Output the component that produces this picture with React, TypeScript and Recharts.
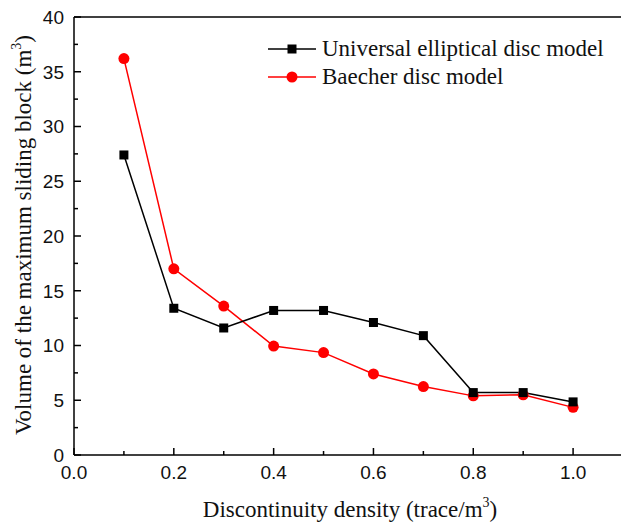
import React from 'react'
import { LineChart, Line, XAxis, YAxis, Legend, ReferenceLine } from 'recharts'

const densities = [0.1, 0.2, 0.3, 0.4, 0.5, 0.6, 0.7, 0.8, 0.9, 1.0]
const ellipticalVolumes = [27.4, 13.4, 11.6, 13.2, 13.2, 12.1, 10.9, 5.7, 5.7, 4.85]
const baecherVolumes = [36.2, 17.0, 13.6, 9.95, 9.35, 7.4, 6.25, 5.4, 5.5, 4.35]

const xTicks = [0, 0.1, 0.2, 0.3, 0.4, 0.5, 0.6, 0.7, 0.8, 0.9, 1.0]
const yTicks = [0, 2.5, 5, 7.5, 10, 12.5, 15, 17.5, 20, 22.5, 25, 27.5, 30, 32.5, 35, 37.5, 40]

const SANS = '"Liberation Sans", Arial, sans-serif'
const SERIF = '"Liberation Serif", "Times New Roman", serif'

const rows = densities.map((d, i) => ({
  density: d,
  elliptical: ellipticalVolumes[i],
  baecher: baecherVolumes[i],
}))

const XTick = ({ x, y, payload }: any) => {
  const major = Math.round(payload.value * 10) % 2 === 0
  return (
    <g>
      <line x1={x} x2={x} y1={y} y2={y - (major ? 7 : 4)} stroke="#000" strokeWidth={1.5} />
      {major && (
        <text x={x} y={y + 24} textAnchor="middle" fontFamily={SANS} fontSize={19} fill="#111">
          {payload.value.toFixed(1)}
        </text>
      )}
    </g>
  )
}

const YTick = ({ x, y, payload }: any) => {
  const major = payload.value % 5 === 0
  return (
    <g>
      <line x1={x} x2={x + (major ? 7 : 4)} y1={y} y2={y} stroke="#000" strokeWidth={1.5} />
      {major && (
        <text x={x - 10} y={y} dy="0.36em" textAnchor="end" fontFamily={SANS} fontSize={19} fill="#111">
          {payload.value}
        </text>
      )}
    </g>
  )
}

const SquareDot = ({ cx, cy, index }: any) => (
  <rect key={index} x={cx - 4.5} y={cy - 4.5} width={9} height={9} fill="#000" />
)

const legendItems = [
  { label: 'Universal elliptical disc model', color: '#000', shape: 'square' },
  { label: 'Baecher disc model', color: '#ff0000', shape: 'circle' },
]

const LegendBox = () => (
  <div style={{ fontFamily: SERIF, fontSize: 23, color: '#111' }}>
    {legendItems.map((it) => (
      <div key={it.label} style={{ display: 'flex', alignItems: 'center', height: 28 }}>
        <svg width={48} height={28} style={{ display: 'block' }}>
          <line x1={0} x2={48} y1={14} y2={14} stroke={it.color} strokeWidth={1.5} />
          {it.shape === 'square'
            ? <rect x={19.5} y={9.5} width={9} height={9} fill={it.color} />
            : <circle cx={24} cy={14} r={5.5} fill={it.color} />}
        </svg>
        <span style={{ marginLeft: 6, whiteSpace: 'nowrap' }}>{it.label}</span>
      </div>
    ))}
  </div>
)

export default function App() {
  return (
    <div style={{ position: 'absolute', left: 0, top: 0, width: 621, height: 523, overflow: 'hidden', background: '#fff' }}>
      <LineChart width={640} height={523} data={rows} margin={{ top: 17, right: 17, bottom: 0, left: 0 }}>
        <XAxis
          type="number"
          dataKey="density"
          domain={[0, 1.1]}
          ticks={xTicks}
          interval={0}
          height={68}
          tickSize={0}
          tickMargin={0}
          tickLine={false}
          axisLine={{ stroke: '#000', strokeWidth: 1.5 }}
          tick={<XTick />}
          label={() => (
            <text x={350} y={517} textAnchor="middle" fontFamily={SERIF} fontSize={23} fill="#111">
              Discontinuity density (trace/m<tspan fontSize={14} dy={-10}>3</tspan><tspan dy={10}>)</tspan>
            </text>
          )}
        />
        <YAxis
          type="number"
          domain={[0, 40]}
          ticks={yTicks}
          interval={0}
          width={74}
          tickSize={0}
          tickMargin={0}
          tickLine={false}
          axisLine={{ stroke: '#000', strokeWidth: 1.5 }}
          tick={<YTick />}
          label={() => (
            <text x={31} y={235} transform="rotate(-90 31 235)" textAnchor="middle" fontFamily={SERIF} fontSize={23} fill="#111">
              Volume of the maximum sliding block (m<tspan fontSize={14} dy={-10}>3</tspan><tspan dy={10}>)</tspan>
            </text>
          )}
        />
        <ReferenceLine y={40} stroke="#000" strokeWidth={1.5} />
        <Legend
          layout="vertical"
          align="center"
          verticalAlign="middle"
          content={<LegendBox />}
          wrapperStyle={{ left: 268, top: 35, width: 360 }}
        />
        <Line
          dataKey="baecher"
          stroke="#ff0000"
          strokeWidth={1.5}
          dot={{ r: 5.5, fill: '#ff0000', stroke: '#ff0000', strokeWidth: 0 }}
          isAnimationActive={false}
        />
        <Line
          dataKey="elliptical"
          stroke="#000"
          strokeWidth={1.5}
          dot={<SquareDot />}
          isAnimationActive={false}
        />
      </LineChart>
    </div>
  )
}
